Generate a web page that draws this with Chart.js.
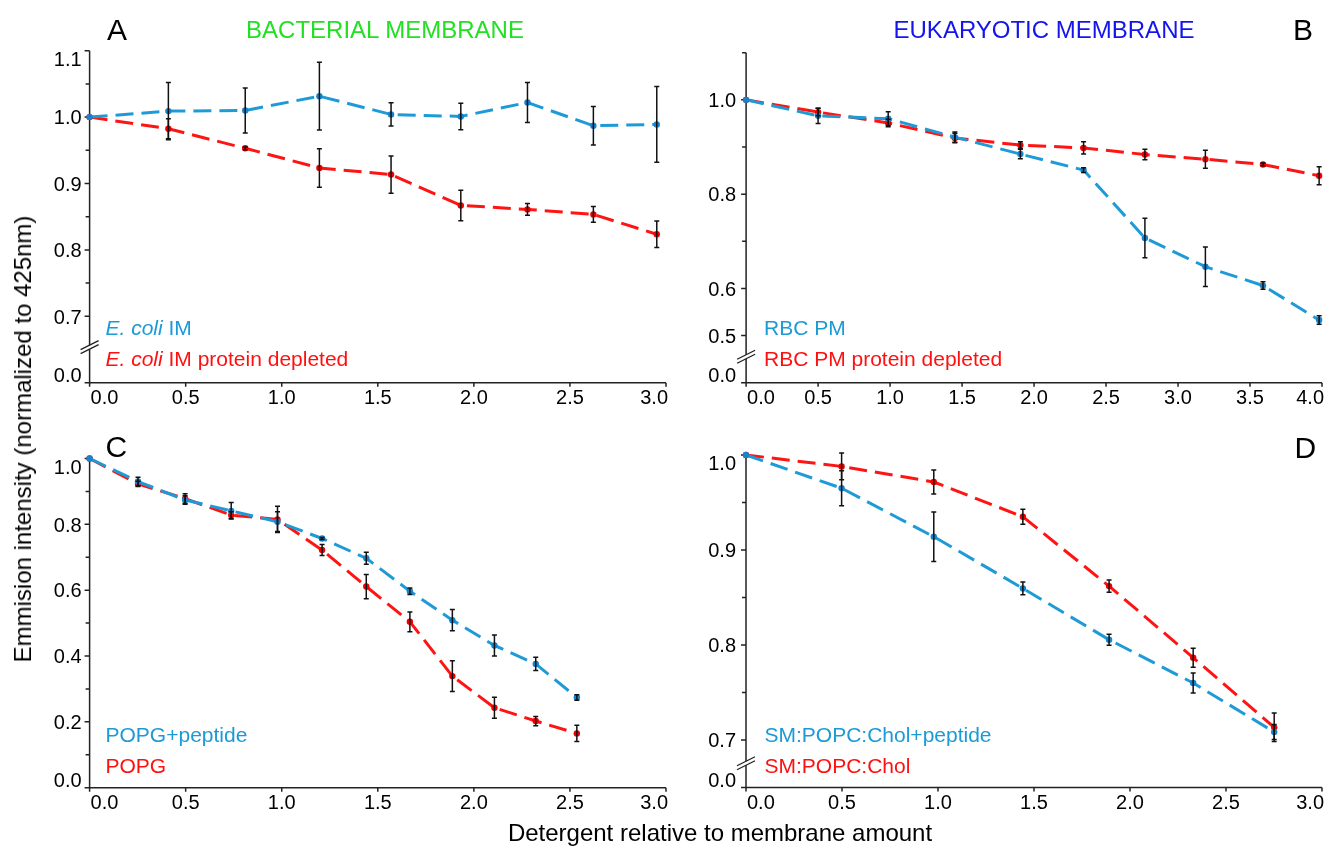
<!DOCTYPE html>
<html><head><meta charset="utf-8">
<script src="https://cdn.jsdelivr.net/npm/chart.js@4.4.1/dist/chart.umd.min.js"></script>
<style>
body{margin:0;background:#fff;width:1328px;height:847px;overflow:hidden;position:relative;font-family:"Liberation Sans",Arial,sans-serif;}
canvas{position:absolute;}
.t{position:absolute;white-space:nowrap;line-height:1;margin:0;}
.blue{color:#1b9ad6}.red{color:#ff1010}
</style></head><body>
<canvas id="cA" width="700" height="420" style="left:0;top:0"></canvas>
<canvas id="cB" width="628" height="420" style="left:700px;top:0"></canvas>
<canvas id="cC" width="700" height="427" style="left:0;top:420px"></canvas>
<canvas id="cD" width="628" height="427" style="left:700px;top:420px"></canvas>

<div class="t" style="left:107px;top:14.6px;font-size:30px;color:#000">A</div>
<div class="t" style="left:385px;top:17.7px;font-size:24px;color:#22e022;transform:translateX(-50%)">BACTERIAL MEMBRANE</div>
<div class="t" style="left:1044px;top:17.7px;font-size:24px;color:#1414ee;transform:translateX(-50%)">EUKARYOTIC MEMBRANE</div>
<div class="t" style="left:1293px;top:14.6px;font-size:30px;color:#000">B</div>
<div class="t" style="left:105.5px;top:431.6px;font-size:30px;color:#000">C</div>
<div class="t" style="left:1294.6px;top:432.6px;font-size:30px;color:#000">D</div>

<div class="t blue" style="left:105.5px;top:317.2px;font-size:21px"><i>E. coli</i> IM</div>
<div class="t red" style="left:105.5px;top:348.2px;font-size:21px"><i>E. coli</i> IM protein depleted</div>
<div class="t blue" style="left:764px;top:317.2px;font-size:21px">RBC PM</div>
<div class="t red" style="left:764px;top:348.2px;font-size:21px">RBC PM protein depleted</div>
<div class="t blue" style="left:105.5px;top:723.9px;font-size:21px">POPG+peptide</div>
<div class="t red" style="left:105.5px;top:754.9px;font-size:21px">POPG</div>
<div class="t blue" style="left:764.5px;top:723.9px;font-size:21px">SM:POPC:Chol+peptide</div>
<div class="t red" style="left:764.5px;top:754.9px;font-size:21px">SM:POPC:Chol</div>

<div class="t" style="left:22.7px;top:439px;font-size:24px;color:#000;transform:translate(-50%,-50%) rotate(-90deg)">Emmision intensity (normalized to 425nm)</div>
<div class="t" style="left:720px;top:820.7px;font-size:24px;color:#000;transform:translateX(-50%)">Detergent relative to membrane amount</div>

<script>
// ---------- DATA ----------
// Panel A (bacterial membrane)
const xA = [0, 0.41, 0.81, 1.196, 1.569, 1.932, 2.279, 2.622, 2.952];
const ecoliIM = [1.0, 1.009, 1.010, 1.0315, 1.004, 1.001, 1.022, 0.987, 0.989];
const ecoliIMErr = [0, 0.043, 0.034, 0.051, 0.0175, 0.02, 0.03, 0.029, 0.057];
const ecoliDepl = [1.0, 0.9825, 0.953, 0.9235, 0.9135, 0.867, 0.861, 0.8535, 0.8235];
const ecoliDeplErr = [0, 0.015, 0.002, 0.029, 0.028, 0.023, 0.009, 0.012, 0.02];
// Panel B (eukaryotic membrane)
const xB = [0, 0.50, 0.987, 1.45, 1.905, 2.344, 2.77, 3.19, 3.59, 3.98];
const rbcPM = [1.0, 0.966, 0.96, 0.921, 0.885, 0.851, 0.707, 0.646, 0.606, 0.533];
const rbcPMErr = [0, 0.016, 0.0145, 0.011, 0.01, 0.005, 0.042, 0.042, 0.008, 0.009];
const rbcDepl = [1.0, 0.974, 0.951, 0.919, 0.904, 0.898, 0.884, 0.874, 0.863, 0.839];
const rbcDeplErr = [0, 0.008, 0.008, 0.01, 0.007, 0.013, 0.011, 0.019, 0.003, 0.019];
// Panel C
const xC = [0, 0.252, 0.497, 0.737, 0.978, 1.210, 1.440, 1.667, 1.888, 2.107, 2.322, 2.536];
const popgPep = [1.0, 0.93, 0.874, 0.841, 0.808, 0.757, 0.697, 0.597, 0.509, 0.432, 0.376, 0.274];
const popgPepErr = [0, 0.013, 0.013, 0.025, 0.03, 0.003, 0.018, 0.01, 0.032, 0.032, 0.02, 0.008];
const popg = [1.0, 0.923, 0.878, 0.828, 0.815, 0.722, 0.611, 0.504, 0.339, 0.243, 0.2025, 0.165];
const popgErr = [0, 0.008, 0.015, 0.01, 0.04, 0.017, 0.037, 0.03, 0.047, 0.032, 0.014, 0.025];
// Panel D
const xD = [0, 0.498, 0.978, 1.442, 1.891, 2.329, 2.751];
const smPep = [1.0, 0.965, 0.914, 0.8596, 0.8056, 0.76, 0.7084];
const smPepErr = [0, 0.0185, 0.026, 0.0067, 0.0058, 0.0105, 0.008];
const sm = [1.0, 0.988, 0.9716, 0.935, 0.862, 0.7867, 0.7133];
const smErr = [0, 0.014, 0.0126, 0.008, 0.0065, 0.01, 0.015];

// Tick values and labels (broken axes: lowest tick carries label "0.0")
const xTicks3 = [0, 0.5, 1.0, 1.5, 2.0, 2.5, 3.0];
const xLabels3 = ['0.0','0.5','1.0','1.5','2.0','2.5','3.0'];
const xTicks4 = [0, 0.5, 1.0, 1.5, 2.0, 2.5, 3.0, 3.5, 4.0];
const xLabels4 = ['0.0','0.5','1.0','1.5','2.0','2.5','3.0','3.5','4.0'];
const yTicksA = [0.6, 0.7, 0.8, 0.9, 1.0, 1.1];
const yLabelsA = ['0.0','0.7','0.8','0.9','1.0','1.1'];
const yMinorA = [0.75, 0.85, 0.95, 1.05];
const yTicksB = [0.4, 0.5, 0.6, 0.8, 1.0];
const yLabelsB = ['0.0','0.5','0.6','0.8','1.0'];
const yMinorB = [0.7, 0.9, 1.1];
const yTicksC = [0, 0.2, 0.4, 0.6, 0.8, 1.0];
const yLabelsC = ['0.0','0.2','0.4','0.6','0.8','1.0'];
const yMinorC = [0.1, 0.3, 0.5, 0.7, 0.9];
const yTicksD = [0.65, 0.7, 0.8, 0.9, 1.0];
const yLabelsD = ['0.0','0.7','0.8','0.9','1.0'];
const yMinorD = [0.75, 0.85, 0.95];

// ---------- STYLE ----------
const BLUE_LINE = '#1e9bd7', BLUE_PT = '#1882cc', RED_LINE = '#ff1414', RED_PT = '#ee0000';
const FONT = '20px "Liberation Sans", Arial, sans-serif';

function axisPlugin(p){
  return {
    id: 'axesDeco',
    beforeDatasetsDraw(chart){
      const ctx = chart.ctx, xs = chart.scales.x, ys = chart.scales.y, ca = chart.chartArea;
      ctx.save();
      ctx.strokeStyle = '#222'; ctx.lineWidth = 1.5; ctx.lineCap = 'butt';
      ctx.beginPath();
      ctx.moveTo(ca.left, ca.top); ctx.lineTo(ca.left, ca.bottom + 0.75);
      ctx.moveTo(ca.left - 0.75, ca.bottom); ctx.lineTo(ca.right, ca.bottom);
      p.yTicks.forEach(v => { const y = ys.getPixelForValue(v); ctx.moveTo(ca.left, y); ctx.lineTo(ca.left - 5, y); });
      p.yMinor.forEach(v => { const y = ys.getPixelForValue(v); ctx.moveTo(ca.left, y); ctx.lineTo(ca.left - 4, y); });
      p.xTicks.forEach(v => { const x = xs.getPixelForValue(v); ctx.moveTo(x, ca.bottom); ctx.lineTo(x, ca.bottom + 4); });
      ctx.stroke();
      if (p.brk != null){
        const by = ys.getPixelForValue(p.brk);
        ctx.fillStyle = '#fff';
        ctx.fillRect(ca.left - 2, by - 2, 4, 4);
        ctx.beginPath();
        [-2, 2].forEach(o => { ctx.moveTo(ca.left - 9, by + o + 4.5); ctx.lineTo(ca.left + 9, by + o - 4.5); });
        ctx.lineWidth = 1.3; ctx.stroke();
      }
      ctx.fillStyle = '#000'; ctx.font = FONT;
      ctx.textAlign = 'right';
      p.yTicks.forEach((v, i) => {
        const y = ys.getPixelForValue(v);
        let base = y + 7.2;
        if (v === ys.max) base = y + 15;
        else if (v === ys.min) base = y - 0.5;
        ctx.fillText(p.yLabels[i], ca.left - p.yGap, base);
      });
      p.xTicks.forEach((v, i) => {
        const x = xs.getPixelForValue(v);
        if (i === 0){ ctx.textAlign = 'left'; ctx.fillText(p.xLabels[i], x + 1, ca.bottom + 21); }
        else if (i === p.xTicks.length - 1){ ctx.textAlign = 'right'; ctx.fillText(p.xLabels[i], x + 2, ca.bottom + 21); }
        else { ctx.textAlign = 'center'; ctx.fillText(p.xLabels[i], x, ca.bottom + 21); }
      });
      ctx.restore();
    }
  };
}

const errPlugin = {
  id: 'errBars',
  afterDatasetsDraw(chart){
    const ctx = chart.ctx, ys = chart.scales.y;
    ctx.save(); ctx.strokeStyle = '#111'; ctx.lineWidth = 1.5;
    chart.data.datasets.forEach((ds, i) => {
      const meta = chart.getDatasetMeta(i);
      meta.data.forEach((pt, j) => {
        const e = ds.errors[j]; if (!e) return;
        const v = ds.data[j].y;
        const yT = ys.getPixelForValue(v + e), yB = ys.getPixelForValue(v - e);
        ctx.beginPath();
        ctx.moveTo(pt.x, yT); ctx.lineTo(pt.x, yB);
        ctx.moveTo(pt.x - 2.5, yT); ctx.lineTo(pt.x + 2.5, yT);
        ctx.moveTo(pt.x - 2.5, yB); ctx.lineTo(pt.x + 2.5, yB);
        ctx.stroke();
      });
    });
    ctx.restore();
  }
};

function series(xs, ys, errs, line, pt){
  return {
    data: xs.map((x, i) => ({x: x, y: ys[i]})),
    errors: errs,
    borderColor: line, backgroundColor: pt,
    pointBackgroundColor: pt, pointBorderColor: pt,
    borderWidth: 3, borderDash: [18, 8], pointRadius: 3.2, pointBorderWidth: 0,
    tension: 0, fill: false, clip: 12
  };
}

function makeChart(id, p){
  new Chart(document.getElementById(id), {
    type: 'line',
    data: { datasets: [
      series(p.x, p.blue, p.blueErr, BLUE_LINE, BLUE_PT),
      series(p.x, p.red, p.redErr, RED_LINE, RED_PT)
    ]},
    options: {
      responsive: false, animation: false, devicePixelRatio: 1, events: [],
      layout: { padding: p.pad },
      plugins: { legend: {display: false}, tooltip: {enabled: false} },
      scales: {
        x: { type: 'linear', display: false, min: p.xMin, max: p.xMax },
        y: { type: 'linear', display: false, min: p.yMin, max: p.yMax }
      }
    },
    plugins: [axisPlugin(p), errPlugin]
  });
}

makeChart('cA', { x: xA, blue: ecoliIM, blueErr: ecoliIMErr, red: ecoliDepl, redErr: ecoliDeplErr,
  xMin: 0, xMax: 3, yMin: 0.6, yMax: 1.1, xTicks: xTicks3, xLabels: xLabels3,
  yTicks: yTicksA, yLabels: yLabelsA, yMinor: yMinorA, brk: 0.6535, yGap: 8,
  pad: {left: 89.6, top: 50.7, right: 34, bottom: 37.3} });
makeChart('cB', { x: xB, blue: rbcPM, blueErr: rbcPMErr, red: rbcDepl, redErr: rbcDeplErr,
  xMin: 0, xMax: 4, yMin: 0.4, yMax: 1.1, xTicks: xTicks4, xLabels: xLabels4,
  yTicks: yTicksB, yLabels: yLabelsB, yMinor: yMinorB, brk: 0.455, yGap: 10,
  pad: {left: 46.1, top: 52.7, right: 6, bottom: 37.3} });
makeChart('cC', { x: xC, blue: popgPep, blueErr: popgPepErr, red: popg, redErr: popgErr,
  xMin: 0, xMax: 3, yMin: 0, yMax: 1.0, xTicks: xTicks3, xLabels: xLabels3,
  yTicks: yTicksC, yLabels: yLabelsC, yMinor: yMinorC, brk: null, yGap: 8,
  pad: {left: 89.6, top: 38.5, right: 34, bottom: 59.3} });
makeChart('cD', { x: xD, blue: smPep, blueErr: smPepErr, red: sm, redErr: smErr,
  xMin: 0, xMax: 3, yMin: 0.65, yMax: 1.0, xTicks: xTicks3, xLabels: xLabels3,
  yTicks: yTicksD, yLabels: yLabelsD, yMinor: yMinorD, brk: 0.6755, yGap: 10,
  pad: {left: 46, top: 35, right: 6, bottom: 59.5} });
</script>
</body></html>
